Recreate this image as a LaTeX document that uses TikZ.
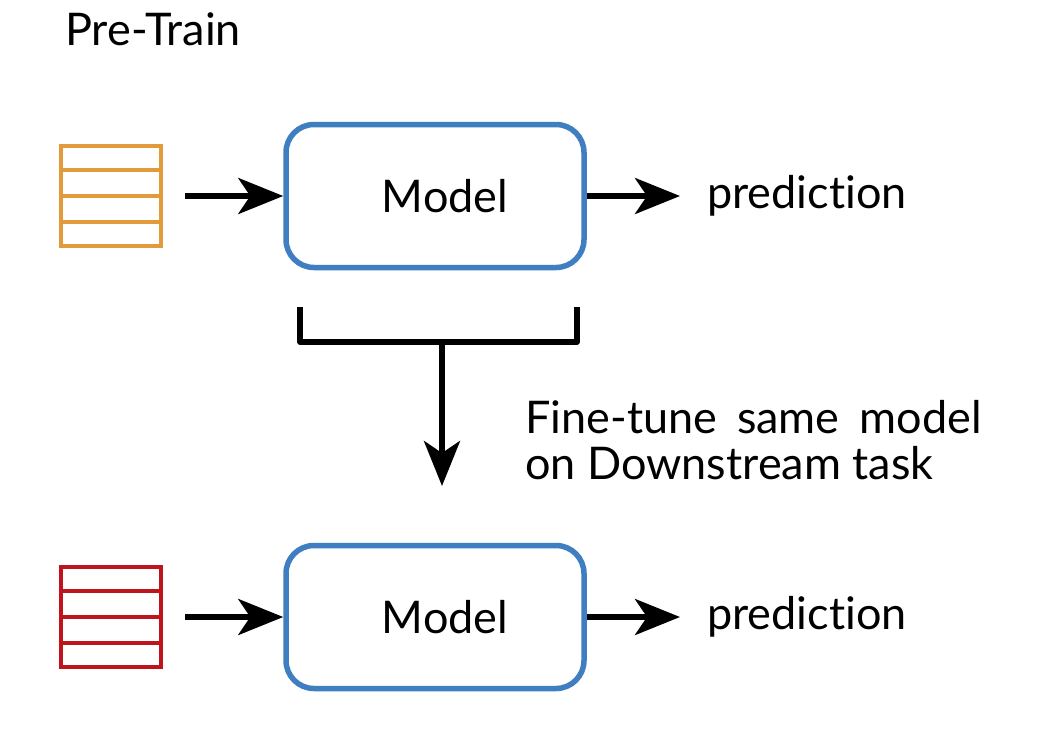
\documentclass[tikz,border=0pt]{standalone}
\usepackage{fontspec}
\setmainfont{Lato}[Ligatures={NoCommon,NoRare,NoContextual}]
\usetikzlibrary{arrows.meta,calc}
\definecolor{stackorange}{HTML}{E39A3B}
\definecolor{stackred}{HTML}{C0141C}
\definecolor{modelblue}{HTML}{3F7EC1}
\tikzset{
  stackbox/.style={draw, line width=4.5pt, minimum width=100pt, minimum height=100pt, inner sep=0pt},
  modelbox/.style={draw=modelblue, line width=5.5pt, rounded corners=28pt, minimum width=298pt, minimum height=143pt, font=\fontsize{45}{46}\selectfont},
  lbl/.style={font=\fontsize{45}{46}\selectfont, inner sep=0pt},
  conn/.style={line width=5.5pt, -{Stealth[length=45pt, width=36pt, inset=12pt]}},
}
\begin{document}
\begin{tikzpicture}[x=1pt,y=-1pt]
\useasboundingbox (0,0) rectangle (1049,740);
\fill[white] (0,0) rectangle (1049,740);
\node[lbl, anchor=base west] (pt) at (65,45) {Pre-Train};
% top row
\node[stackbox, draw=stackorange] (s1) at (111,196) {};
\foreach \f in {0.25,0.5,0.75}
  \draw[stackorange, line width=4.5pt] ($(s1.north west)!\f!(s1.south west)$) -- ($(s1.north east)!\f!(s1.south east)$);
\node[modelbox] (m1) at (435,196) {\hspace*{20pt}Model};
\node[lbl, anchor=base west] (p1) at (707,208) {prediction};
\coordinate (a1s) at (185,196);
\draw[conn] (a1s) -- (m1.west);
\draw[conn] (m1.east) -- (680,196);
% bracket
\coordinate (bl) at (300,307);
\coordinate (br) at (577,307);
\coordinate (bm) at (442,342);
\coordinate (bend) at (442,486);
\draw[line width=5.5pt, line join=round] (bl) |- (br |- bm) -- (br);
\draw[conn] (bm) -- (bend);
\node[lbl, anchor=north west, align=left] (ft) at (525,400) {Fine-tune\hspace{20pt}same\hspace{20pt}model\\on Downstream task};
% bottom row
\node[stackbox, draw=stackred] (s2) at (111,617) {};
\foreach \f in {0.25,0.5,0.75}
  \draw[stackred, line width=4.5pt] ($(s2.north west)!\f!(s2.south west)$) -- ($(s2.north east)!\f!(s2.south east)$);
\node[modelbox] (m2) at (435,617) {\hspace*{20pt}Model};
\node[lbl, anchor=base west] (p2) at (707,629) {prediction};
\coordinate (a2s) at (185,617);
\draw[conn] (a2s) -- (m2.west);
\draw[conn] (m2.east) -- (680,617);
\end{tikzpicture}
\end{document}
